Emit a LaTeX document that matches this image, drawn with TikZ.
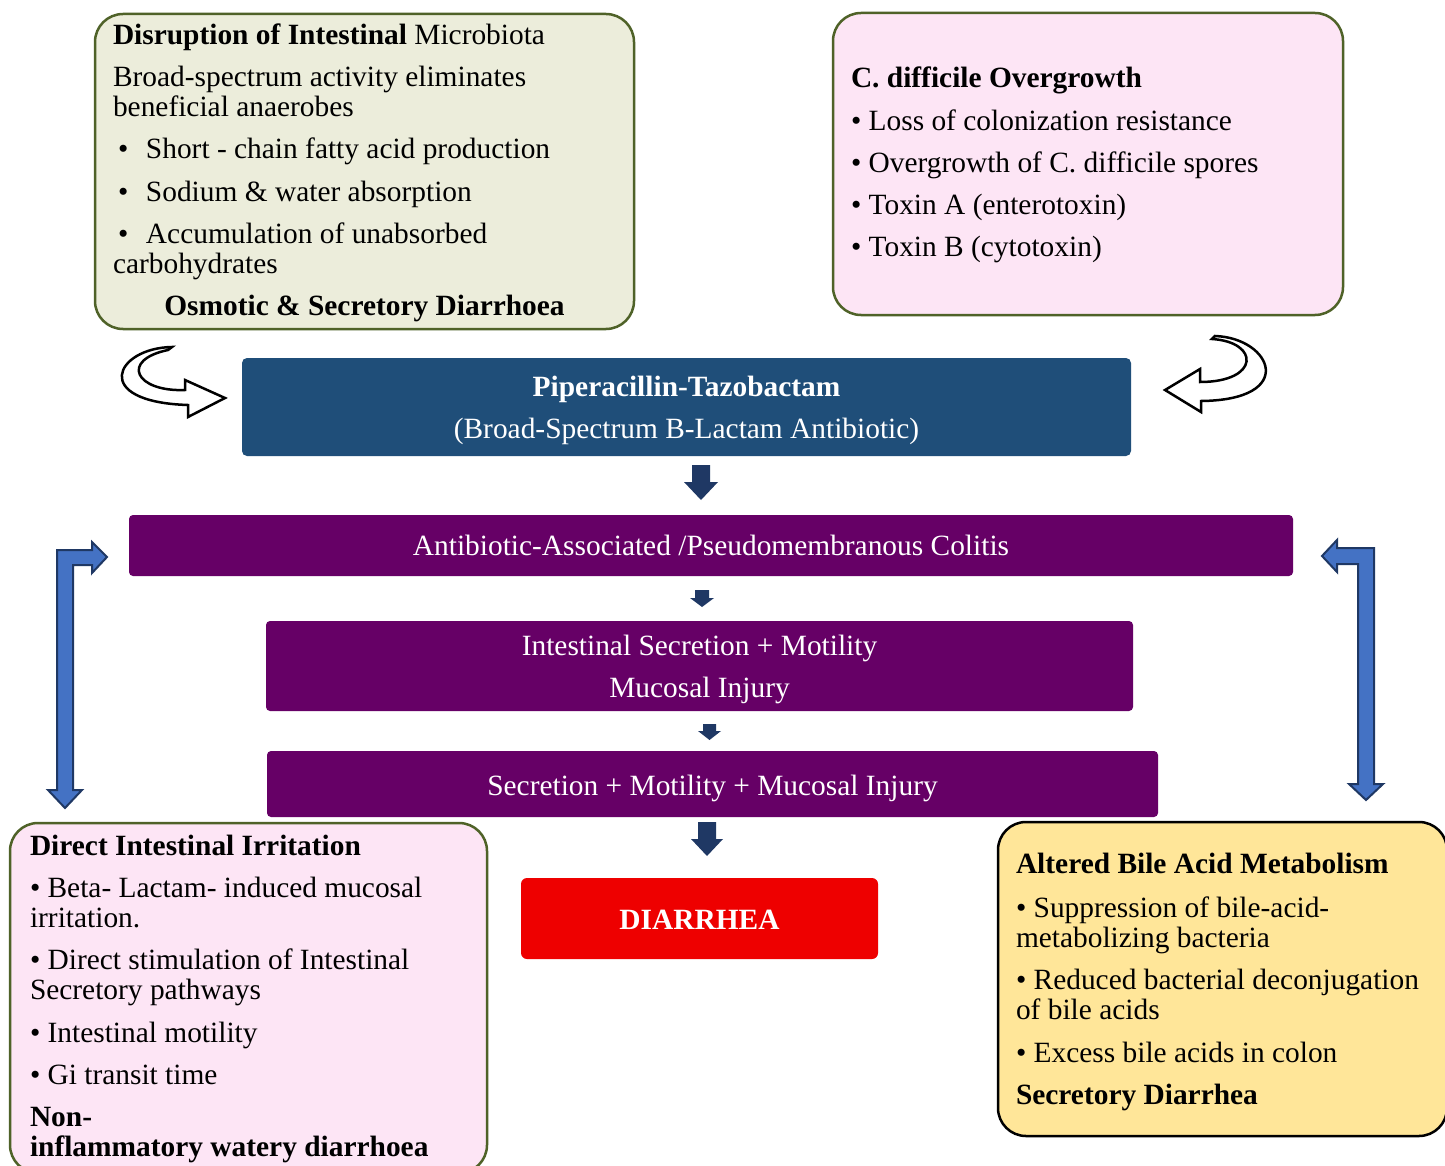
\documentclass[tikz,border=0pt]{standalone}
\usepackage{fontspec}
\setmainfont{Liberation Serif}
\definecolor{olivebg}{RGB}{236,237,219}
\definecolor{greenline}{RGB}{79,98,40}
\definecolor{pinkbg}{RGB}{253,229,245}
\definecolor{pipblue}{RGB}{31,78,121}
\definecolor{purplebox}{RGB}{102,0,102}
\definecolor{darkarrow}{RGB}{31,56,100}
\definecolor{redbox}{RGB}{238,0,0}
\definecolor{yellowbg}{RGB}{255,230,153}
\definecolor{larrow}{RGB}{68,114,196}
\tikzset{
  bigbox/.style={draw, line width=2.5pt, rounded corners=28pt, inner sep=0pt, outer sep=0pt, anchor=north west},
  flatbox/.style={inner sep=0pt, outer sep=0pt, anchor=north west, rounded corners=5pt},
  txt/.style={inner sep=0pt, outer sep=0pt, anchor=base west, text=black, yshift=-1pt},
  ctxt/.style={inner sep=0pt, outer sep=0pt, anchor=base, text=white, yshift=-1pt},
  blockarrow/.style={fill=darkarrow},
  larr/.style={fill=larrow, draw=darkarrow, line width=2pt, line join=miter},
  curvarr/.style={fill=white, draw=black, line width=2.5pt, line join=miter},
}
\newcommand{\bul}{\makebox[28pt][l]{\textbullet}}
\begin{document}
\begin{tikzpicture}[x=1pt,y=-1pt,font=\fontsize{29.4}{30}\selectfont]
\fill[white] (0,0) rectangle (1445,1166);
\useasboundingbox (0,0) rectangle (1445,1166);

% ---- top-left box
\node[bigbox, draw=greenline, fill=olivebg, minimum width=539pt, minimum height=315pt] (b1) at (95,14) {};
\node[txt] (b1t) at (113,44) {\textbf{Disruption of Intestinal} Microbiota};
\node[txt] (b1a) at (113,86) {Broad-spectrum activity eliminates};
\node[txt] (b1b) at (113,116) {beneficial anaerobes};
\node[txt] (b1c) at (118,158) {\bul Short - chain fatty acid production};
\node[txt] (b1d) at (118,201) {\bul Sodium \& water absorption};
\node[txt] (b1e) at (118,243) {\bul Accumulation of unabsorbed};
\node[txt] (b1f) at (113,273) {carbohydrates};
\node[ctxt, text=black] (b1g) at (364.5,315) {\textbf{Osmotic \& Secretory Diarrhoea}};

% ---- top-right box
\node[bigbox, draw=greenline, fill=pinkbg, minimum width=510pt, minimum height=302pt] (b2) at (833,13) {};
\node[txt] (b2t) at (851,87) {\textbf{C. difficile Overgrowth}};
\node[txt] (b2a) at (851,130) {\textbullet{} Loss of colonization resistance};
\node[txt] (b2b) at (851,172) {\textbullet{} Overgrowth of C. difficile spores};
\node[txt] (b2c) at (851,214) {\textbullet{} Toxin A (enterotoxin)};
\node[txt] (b2d) at (851,256) {\textbullet{} Toxin B (cytotoxin)};

% ---- curved arrows
\draw[curvarr] (172,347) .. controls (115,348) and (90,402) .. (188,405) -- (188,417) -- (225,398) -- (185,380) -- (185,390) .. controls (135,392) and (120,360) .. (168,350) -- cycle;
\draw[curvarr] (1215,336) .. controls (1272,338) and (1298,400) .. (1201,401) -- (1201,412) -- (1165,390) -- (1200,369) -- (1200,382) .. controls (1260,382) and (1260,342) .. (1212,339) -- cycle;

% ---- Piperacillin box
\node[flatbox, fill=pipblue, minimum width=889pt, minimum height=98pt] (pip) at (242,358) {};
\node[ctxt] (pipa) at (686.5,395) {\textbf{Piperacillin-Tazobactam}};
\node[ctxt] (pipb) at (686.5,437) {(Broad-Spectrum B-Lactam Antibiotic)};

% ---- arrow 1
\fill[blockarrow] (692,465) -- (710,465) -- (710,482) -- (718,482) -- (701,500) -- (684,482) -- (692,482) -- cycle;

% ---- Colitis box
\node[flatbox, rounded corners=4pt, fill=purplebox, minimum width=1164pt, minimum height=61pt] (col) at (129,515) {};
\node[ctxt] (colt) at (711,554) {Antibiotic-Associated /Pseudomembranous Colitis};

% ---- arrow 2
\fill[blockarrow] (695,590) -- (709,590) -- (709,598) -- (714,598) -- (702,607) -- (690,598) -- (695,598) -- cycle;

% ---- Secretion box
\node[flatbox, rounded corners=4pt, fill=purplebox, minimum width=867pt, minimum height=90pt] (sec) at (266,621) {};
\node[ctxt] (seca) at (699.5,654) {Intestinal Secretion + Motility};
\node[ctxt] (secb) at (699.5,696) {Mucosal Injury};

% ---- arrow 3
\fill[blockarrow] (703,724) -- (716,724) -- (716,731) -- (721,731) -- (709.5,740) -- (698,731) -- (703,731) -- cycle;

% ---- Secretion + Motility box
\node[flatbox, rounded corners=4pt, fill=purplebox, minimum width=891pt, minimum height=66pt] (smm) at (267,751) {};
\node[ctxt] (smmt) at (712.5,794) {Secretion + Motility + Mucosal Injury};

% ---- arrow 4
\fill[blockarrow] (698,822) -- (716,822) -- (716,839) -- (723,839) -- (707,856) -- (691,839) -- (698,839) -- cycle;

% ---- Diarrhea box
\node[flatbox, rounded corners=6pt, fill=redbox, minimum width=357pt, minimum height=81pt] (dia) at (521,878) {};
\node[ctxt] (diat) at (699.5,928) {\textbf{DIARRHEA}};

% ---- blue L arrows
\draw[larr] (65,808) -- (82,790) -- (73,790) -- (73,565) -- (92,565) -- (92,573) -- (107,557) -- (92,542) -- (92,550) -- (57,550) -- (57,790) -- (48,790) -- cycle;
\draw[larr] (1366,800) -- (1383,784) -- (1374,784) -- (1374,548) -- (1337,548) -- (1337,540) -- (1322,556) -- (1337,572) -- (1337,564) -- (1358,564) -- (1358,784) -- (1349,784) -- cycle;

% ---- bottom-left box
\node[bigbox, draw=greenline, fill=pinkbg, minimum width=477pt, minimum height=350pt] (b3) at (10,823) {};
\node[txt] (b3t) at (30,854) {\textbf{Direct Intestinal Irritation}};
\node[txt] (b3a) at (30,896) {\textbullet{} Beta- Lactam- induced mucosal};
\node[txt] (b3b) at (30,926) {irritation.};
\node[txt] (b3c) at (30,968) {\textbullet{} Direct stimulation of Intestinal};
\node[txt] (b3d) at (30,998) {Secretory pathways};
\node[txt] (b3e) at (30,1041) {\textbullet{} Intestinal motility};
\node[txt] (b3f) at (30,1083) {\textbullet{} Gi transit time};
\node[txt] (b3g) at (30,1125) {\textbf{Non-}};
\node[txt] (b3h) at (30,1155) {\textbf{inflammatory watery diarrhoea}};

% ---- bottom-right box
\node[bigbox, draw=black, fill=yellowbg, minimum width=449pt, minimum height=314pt] (b4) at (998,822) {};
\node[txt] (b4t) at (1016,872) {\textbf{Altered Bile Acid Metabolism}};
\node[txt] (b4a) at (1016,916) {\textbullet{} Suppression of bile-acid-};
\node[txt] (b4b) at (1016,946) {metabolizing bacteria};
\node[txt] (b4c) at (1016,988) {\textbullet{} Reduced bacterial deconjugation};
\node[txt] (b4d) at (1016,1018) {of bile acids};
\node[txt] (b4e) at (1016,1061) {\textbullet{} Excess bile acids in colon};
\node[txt] (b4f) at (1016,1103) {\textbf{Secretory Diarrhea}};
\end{tikzpicture}
\end{document}
